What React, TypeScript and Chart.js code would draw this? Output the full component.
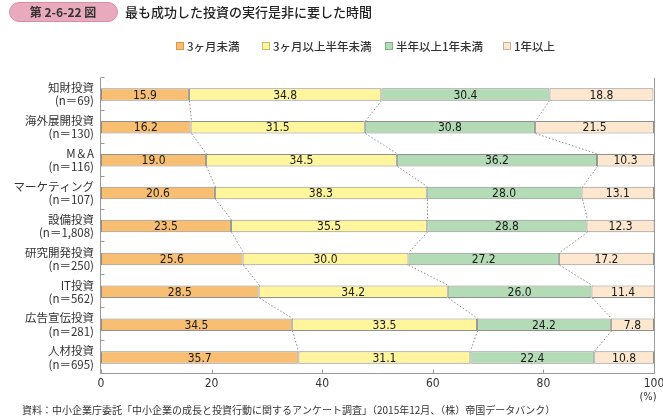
import React, { useEffect, useRef } from "react";
import { Chart, registerables } from "chart.js";

Chart.register(...registerables);

const categories = [
  ["知財投資", "(n＝69)"],
  ["海外展開投資", "(n＝130)"],
  ["M＆A", "(n＝116)"],
  ["マーケティング", "(n＝107)"],
  ["設備投資", "(n＝1,808)"],
  ["研究開発投資", "(n＝250)"],
  ["IT投資", "(n＝562)"],
  ["広告宣伝投資", "(n＝281)"],
  ["人材投資", "(n＝695)"],
];
const seriesNames = ["3ヶ月未満", "3ヶ月以上半年未満", "半年以上1年未満", "1年以上"];
const under3m = [15.9, 16.2, 19.0, 20.6, 23.5, 25.6, 28.5, 34.5, 35.7];
const m3to6 = [34.8, 31.5, 34.5, 38.3, 35.5, 30.0, 34.2, 33.5, 31.1];
const m6to12 = [30.4, 30.8, 36.2, 28.0, 28.8, 27.2, 26.0, 24.2, 22.4];
const over1y = [18.8, 21.5, 10.3, 13.1, 12.3, 17.2, 11.4, 7.8, 10.8];
const xTicks = [0, 20, 40, 60, 80, 100];

const fills = ["#F8BF73", "#FEF59C", "#B3DCB6", "#FDE8CF"];
const legendBorders = ["#D89A4A", "#C9C06A", "#7FB088", "#C9B49A"];
const JP = '"Noto Sans CJK JP", "Noto Sans", sans-serif';
const NUM = '"Liberation Sans Narrow", "DejaVu Sans Condensed", "Noto Sans", sans-serif';

const decorPlugin = {
  id: "decor",
  afterDatasetsDraw(chart: any) {
    const ctx = chart.ctx;
    const ca = chart.chartArea;
    const xs = chart.scales.x;
    ctx.save();
    // connectors
    ctx.strokeStyle = "#8a8a8a";
    ctx.lineWidth = 1;
    ctx.setLineDash([1.5, 2]);
    for (let k = 0; k < 3; k++) {
      const meta = chart.getDatasetMeta(k);
      for (let i = 0; i < meta.data.length - 1; i++) {
        const a = meta.data[i];
        const b = meta.data[i + 1];
        ctx.beginPath();
        ctx.moveTo(Math.round(a.x) + 0.5, a.y + a.height / 2);
        ctx.lineTo(Math.round(b.x) + 0.5, b.y - b.height / 2);
        ctx.stroke();
      }
    }
    ctx.setLineDash([]);
    // value labels
    ctx.fillStyle = "#1a1a1a";
    ctx.font = `12px ${NUM}`;
    ctx.textAlign = "center";
    ctx.textBaseline = "middle";
    chart.data.datasets.forEach((ds: any, k: number) => {
      const meta = chart.getDatasetMeta(k);
      meta.data.forEach((el: any, i: number) => {
        const cx = (el.x + el.base) / 2;
        ctx.fillText(ds.data[i].toFixed(1), cx, el.y + 1);
      });
    });
    // axes
    ctx.strokeStyle = "#9a9a9a";
    ctx.lineWidth = 1;
    const left = Math.round(ca.left) - 0.5;
    const bottom = Math.round(ca.bottom) - 0.5;
    const right = Math.round(ca.right) + 0.5;
    ctx.beginPath();
    ctx.moveTo(left, ca.top);
    ctx.lineTo(left, bottom);
    ctx.lineTo(right, bottom);
    ctx.moveTo(right, ca.top);
    ctx.lineTo(right, bottom);
    ctx.stroke();
    const n = chart.data.labels.length;
    const step = (ca.bottom - ca.top) / n;
    ctx.beginPath();
    for (let i = 0; i <= n; i++) {
      const y = Math.round(ca.top + i * step) - 0.5;
      ctx.moveTo(left, y);
      ctx.lineTo(left + 4, y);
    }
    xTicks.forEach((t) => {
      const x = Math.round(xs.getPixelForValue(t)) + 0.5;
      ctx.moveTo(x, bottom);
      ctx.lineTo(x, bottom - 4);
    });
    ctx.stroke();
    // header
    ctx.fillStyle = "#E9AABE";
    ctx.strokeStyle = "#D68EA8";
    ctx.beginPath();
    (ctx as any).roundRect(9.5, 2.5, 108, 19, 9.5);
    ctx.fill();
    ctx.stroke();
    ctx.fillStyle = "#333";
    ctx.font = `bold 12px ${JP}`;
    ctx.textAlign = "center";
    ctx.fillText("第 2-6-22 図", 63, 12.5);
    ctx.textAlign = "left";
    ctx.font = `500 13px ${JP}`;
    ctx.fillStyle = "#222";
    ctx.fillText("最も成功した投資の実行是非に要した時間", 125, 12.5);
    // legend
    const lx = [176, 262, 385, 503];
    ctx.font = `500 11.5px ${JP}`;
    seriesNames.forEach((s, i) => {
      ctx.fillStyle = fills[i];
      ctx.fillRect(lx[i] + 0.5, 42.5, 7, 7);
      ctx.strokeStyle = legendBorders[i];
      ctx.strokeRect(lx[i] + 0.5, 42.5, 7, 7);
      ctx.fillStyle = "#333";
      ctx.fillText(s, lx[i] + 11, 46.5);
    });
    // unit & source
    ctx.font = `11px ${NUM}`;
    ctx.fillStyle = "#333";
    ctx.textAlign = "center";
    ctx.fillText("(%)", 648, 397);
    ctx.textAlign = "left";
    ctx.font = `10px ${JP}`;
    ctx.fillText(
      "資料：中小企業庁委託「中小企業の成長と投資行動に関するアンケート調査」（2015年12月、（株）帝国データバンク）",
      22,
      410
    );
    ctx.restore();
  },
};

export default function App() {
  const ref = useRef<HTMLCanvasElement | null>(null);
  useEffect(() => {
    if (!ref.current) return;
    const series = [under3m, m3to6, m6to12, over1y];
    const chart = new Chart(ref.current, {
      type: "bar",
      data: {
        labels: categories,
        datasets: series.map((d, i) => ({
          label: seriesNames[i],
          data: d,
          backgroundColor: fills[i],
          borderColor: "#8f8f8f",
          borderWidth: 1,
          borderSkipped: false,
          barPercentage: 0.38,
          categoryPercentage: 1,
        })),
      },
      options: {
        indexAxis: "y",
        responsive: false,
        animation: false,
        layout: { padding: { left: 0, right: 9, top: 78, bottom: 0 } },
        plugins: { legend: { display: false }, tooltip: { enabled: false } },
        scales: {
          x: {
            stacked: true,
            min: 0,
            max: 100,
            grid: { display: false, drawTicks: false },
            border: { display: false },
            afterFit: (s: any) => {
              s.height = 46;
              s.paddingLeft = 0;
              s.paddingRight = 0;
            },
            ticks: {
              stepSize: 20,
              padding: 3,
              color: "#333",
              font: { size: 12, family: NUM },
            },
          },
          y: {
            stacked: true,
            grid: { display: false, drawTicks: false },
            border: { display: false },
            afterFit: (s: any) => {
              s.width = 101;
              s.paddingTop = 0;
              s.paddingBottom = 0;
            },
            ticks: {
              padding: 7,
              color: "#333",
              font: { size: 11.5, family: JP, lineHeight: 1.15 },
            },
          },
        },
      },
      plugins: [decorPlugin],
    } as any);
    return () => chart.destroy();
  }, []);
  return (
    <div style={{ position: "absolute", left: 0, top: 0, width: 663, height: 420, background: "#fff" }}>
      <canvas ref={ref} width={663} height={420} style={{ display: "block" }} />
    </div>
  );
}
